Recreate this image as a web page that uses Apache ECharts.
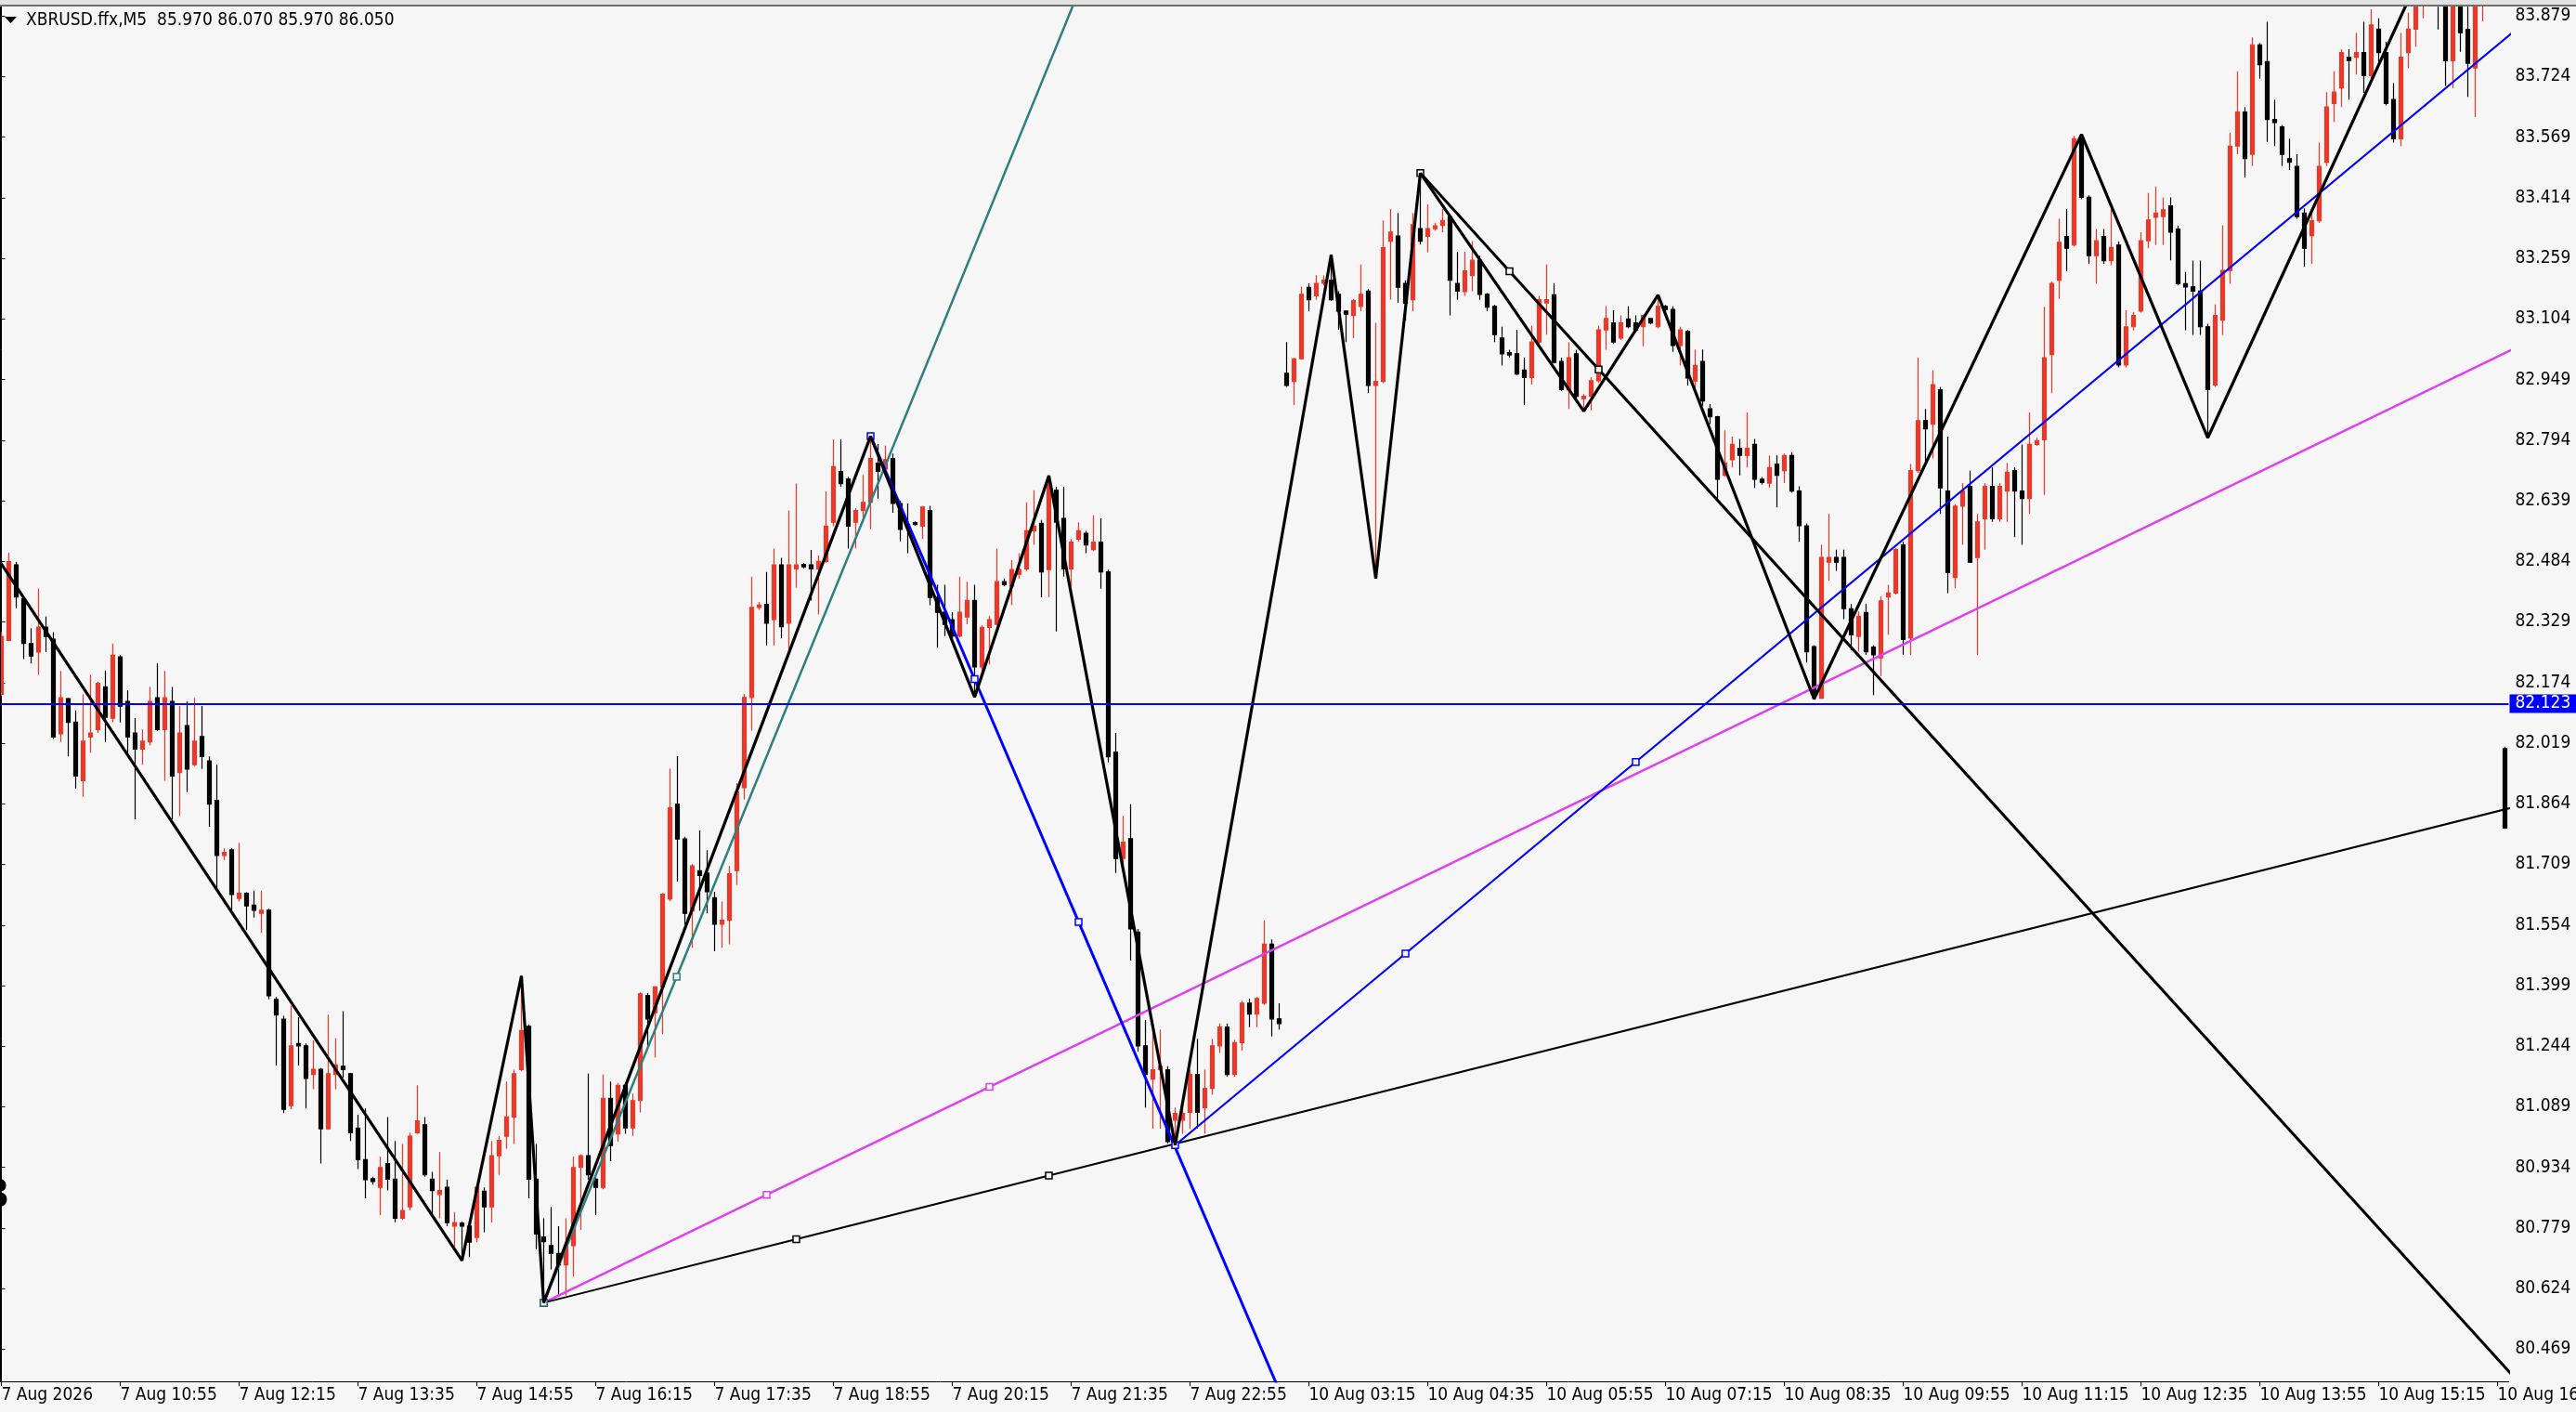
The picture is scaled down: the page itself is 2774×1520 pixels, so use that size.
<!DOCTYPE html>
<html><head><meta charset="utf-8">
<script src="https://cdn.jsdelivr.net/npm/echarts@6/dist/echarts.min.js"></script>
<style>html,body{margin:0;padding:0;background:#f6f6f6;}#c{width:2774px;height:1520px;}</style>
</head><body><div id="c"></div>
<script>
const opens = [82.144,82.282,82.475,82.388,82.274,82.252,82.316,82.285,82.043,82.133,
82.073,81.923,82.035,82.054,82.163,82.083,82.240,82.126,82.045,82.004,
82.022,82.135,82.054,82.126,81.944,82.064,81.964,82.036,81.974,81.873,
81.732,81.746,81.622,81.635,81.605,81.584,81.592,81.364,81.313,81.092,
81.251,81.245,81.172,81.185,81.033,81.172,81.193,81.174,81.035,80.954,
80.905,80.883,80.944,80.904,80.804,80.833,81.023,81.043,80.904,80.865,
80.883,80.784,80.792,80.784,80.755,80.873,80.833,80.964,81.014,81.063,
81.184,81.295,80.904,80.756,80.734,80.714,80.685,80.734,80.934,80.964,
80.904,80.883,81.111,81.020,81.144,81.035,81.105,81.374,81.330,81.396,
81.621,81.863,81.774,81.590,81.693,81.687,81.624,81.556,81.566,81.693,
81.905,82.136,82.366,82.374,82.335,82.475,82.326,82.465,82.476,82.475,
82.465,82.484,82.584,82.714,82.695,82.584,82.614,82.635,82.735,82.720,
82.747,82.632,82.578,82.583,82.574,82.614,82.392,82.354,82.335,82.293,
82.342,82.384,82.214,82.315,82.323,82.432,82.420,82.451,82.465,82.562,
82.581,82.463,82.666,82.594,82.465,82.541,82.556,82.514,82.533,82.457,
81.996,81.724,81.775,81.536,81.245,81.160,81.184,81.184,81.055,81.055,
81.075,81.172,81.087,81.136,81.245,81.293,81.172,81.253,81.354,81.326,
81.354,81.505,81.314,82.965,82.944,83.002,83.185,83.163,83.195,83.203,
83.167,83.124,83.113,83.136,83.175,82.934,82.944,83.303,83.316,83.195,
83.153,83.335,83.315,83.335,83.343,83.365,83.195,83.174,83.215,83.254,
83.167,83.136,83.055,83.018,83.015,82.973,82.954,83.045,83.145,83.166,
82.995,82.923,83.015,82.900,82.906,82.946,83.076,83.094,83.055,83.104,
83.094,83.084,83.105,83.084,83.136,83.128,83.036,83.072,82.945,82.995,
82.874,82.854,82.704,82.744,82.773,82.755,82.783,82.694,82.684,82.733,
82.716,82.755,82.664,82.575,82.266,82.134,82.482,82.494,82.494,82.363,
82.292,82.353,82.265,82.237,82.393,82.403,82.526,82.288,82.716,82.844,
82.835,82.923,82.664,82.443,82.625,82.676,82.494,82.593,82.676,82.593,
82.664,82.716,82.664,82.645,82.783,82.795,83.013,83.203,83.315,83.293,
83.565,83.415,83.266,83.315,83.253,83.293,82.986,83.084,83.124,83.304,
83.364,83.366,83.393,83.334,83.194,83.186,83.175,83.084,82.935,83.101,
83.228,83.546,83.633,83.525,83.805,83.762,83.614,83.595,83.514,83.494,
83.375,83.317,83.355,83.505,83.655,83.695,83.773,83.773,83.785,83.726,
83.845,83.785,83.665,83.565,83.785,83.845,83.940,83.960,83.990,83.950,
83.764,83.950,83.844,83.746,83.940,83.960,84.000,82.005];

const highs = [82.303,82.506,82.483,82.393,82.313,82.414,82.343,82.303,82.204,82.135,
82.103,82.144,82.194,82.176,82.204,82.274,82.244,82.154,82.083,82.054,
82.163,82.223,82.204,82.163,82.114,82.126,82.135,82.114,81.985,81.964,
81.750,81.751,81.764,81.638,81.642,81.642,81.596,81.370,81.322,81.348,
81.318,81.251,81.259,81.188,81.325,81.265,81.334,81.176,81.069,81.085,
80.910,80.962,81.063,81.002,80.994,81.023,81.144,81.063,80.923,80.974,
80.903,80.820,80.796,80.792,80.885,80.883,81.002,81.014,81.154,81.184,
81.425,81.300,80.994,80.804,80.833,80.784,80.804,80.962,80.967,81.174,
80.910,81.172,81.154,81.150,81.150,81.123,81.382,81.380,81.398,81.636,
81.954,81.986,81.780,81.710,81.796,81.745,81.639,81.614,81.705,81.917,
82.145,82.445,82.380,82.457,82.517,82.493,82.614,82.683,82.480,82.513,
82.499,82.663,82.796,82.796,82.700,82.620,82.705,82.804,82.784,82.780,
82.760,82.640,82.632,82.586,82.626,82.626,82.424,82.424,82.354,82.445,
82.432,82.424,82.320,82.344,82.517,82.440,82.487,82.505,82.635,82.666,
82.590,82.703,82.675,82.675,82.541,82.584,82.562,82.602,82.594,82.463,
82.045,81.833,81.863,81.544,81.311,81.281,81.287,81.193,81.087,81.087,
81.184,81.263,81.184,81.263,81.302,81.302,81.260,81.360,81.366,81.370,
81.566,81.517,81.354,83.045,83.005,83.187,83.195,83.216,83.215,83.268,
83.175,83.126,83.155,83.244,83.180,83.094,83.356,83.385,83.375,83.203,
83.375,83.477,83.397,83.350,83.385,83.367,83.276,83.276,83.303,83.266,
83.170,83.140,83.084,83.025,83.076,83.005,83.087,83.163,83.244,83.195,
83.005,83.045,83.025,82.912,82.955,83.087,83.136,83.126,83.113,83.136,
83.113,83.115,83.106,83.165,83.140,83.136,83.084,83.076,83.026,83.026,
82.886,82.856,82.819,82.803,82.797,82.865,82.797,82.700,82.755,82.755,
82.760,82.763,82.676,82.581,82.270,82.526,82.605,82.514,82.514,82.375,
82.356,82.375,82.270,82.395,82.424,82.518,82.534,82.733,83.005,82.874,
82.973,82.930,82.803,82.630,82.684,82.716,82.605,82.684,82.724,82.684,
82.736,82.724,82.783,82.865,82.800,83.135,83.200,83.360,83.385,83.572,
83.576,83.420,83.334,83.334,83.385,83.302,83.126,83.122,83.326,83.426,
83.443,83.415,83.415,83.343,83.224,83.253,83.253,83.092,83.141,83.343,
83.580,83.737,83.646,83.824,83.810,83.864,83.665,83.600,83.565,83.525,
83.387,83.377,83.555,83.684,83.737,83.794,83.794,83.835,83.864,83.896,
83.873,83.813,83.707,83.835,83.887,83.960,83.990,84.020,84.010,83.980,
83.990,83.970,83.920,83.970,84.000,84.030,84.040,82.010];

const lows = [82.140,82.280,82.364,82.234,82.223,82.194,82.252,82.030,82.022,81.985,
81.903,81.882,81.995,82.045,82.022,82.073,82.072,81.995,81.824,81.964,
82.013,82.050,81.923,81.824,81.833,81.894,81.960,81.953,81.805,81.645,
81.720,81.592,81.614,81.541,81.573,81.534,81.364,81.195,81.073,81.083,
81.195,81.085,81.134,80.944,81.030,81.134,81.164,81.002,80.930,80.855,
80.890,80.812,80.875,80.794,80.800,80.824,81.020,80.910,80.812,80.804,
80.784,80.729,80.695,80.705,80.743,80.768,80.793,80.915,80.982,80.994,
81.180,80.855,80.725,80.588,80.673,80.606,80.606,80.655,80.774,80.903,
80.812,80.878,80.950,81.000,81.020,81.015,81.075,81.245,81.215,81.275,
81.615,81.665,81.556,81.496,81.590,81.584,81.487,81.496,81.505,81.657,
81.875,82.051,82.360,82.269,82.269,82.287,82.245,82.417,82.465,82.384,
82.348,82.480,82.574,82.675,82.517,82.517,82.584,82.566,82.644,82.700,
82.608,82.535,82.505,82.575,82.541,82.372,82.263,82.293,82.280,82.290,
82.323,82.137,82.190,82.220,82.320,82.420,82.372,82.440,82.460,82.526,
82.392,82.392,82.305,82.445,82.420,82.535,82.505,82.510,82.414,81.970,
81.687,81.700,81.463,81.230,81.087,81.033,81.033,80.995,80.991,81.020,
81.033,81.033,81.020,81.120,81.227,81.166,81.166,81.233,81.293,81.293,
81.350,81.269,81.287,82.930,82.884,83.000,83.124,83.153,83.190,83.150,
83.076,83.045,83.055,83.124,82.914,82.440,82.940,83.153,83.145,83.100,
83.124,83.294,83.274,83.330,83.326,83.113,83.153,83.163,83.175,83.153,
83.124,83.045,82.985,83.005,82.960,82.884,82.936,83.040,83.064,82.990,
82.920,82.874,82.900,82.868,82.870,82.940,83.025,83.040,83.050,83.080,
83.070,83.034,83.090,83.080,83.120,83.020,82.985,82.934,82.926,82.882,
82.835,82.645,82.700,82.724,82.704,82.724,82.672,82.680,82.672,82.622,
82.684,82.660,82.534,82.225,82.132,82.132,82.435,82.460,82.336,82.257,
82.253,82.245,82.142,82.190,82.296,82.400,82.245,82.245,82.710,82.740,
82.747,82.605,82.403,82.415,82.526,82.480,82.245,82.514,82.585,82.585,
82.585,82.546,82.526,82.605,82.780,82.654,82.914,83.155,83.226,83.290,
83.410,83.245,83.194,83.245,83.241,82.980,82.980,83.075,83.120,83.285,
83.293,83.293,83.254,83.190,83.075,83.063,83.063,82.800,82.930,83.063,
83.194,83.525,83.466,83.495,83.718,83.556,83.546,83.495,83.485,83.360,
83.237,83.245,83.350,83.495,83.607,83.646,83.665,83.729,83.682,83.720,
83.762,83.650,83.555,83.546,83.745,83.800,83.873,83.915,83.844,83.700,
83.694,83.787,83.672,83.620,83.865,83.930,83.940,81.800];

const closes = [82.292,82.483,82.393,82.274,82.242,82.316,82.292,82.035,82.135,82.072,
81.935,82.024,82.045,82.172,82.085,82.244,82.114,82.035,82.004,82.024,
82.126,82.054,82.135,81.935,82.045,81.953,82.024,81.985,81.863,81.732,
81.740,81.632,81.635,81.603,81.592,81.592,81.373,81.324,81.083,81.245,
81.245,81.162,81.185,81.033,81.174,81.196,81.184,81.023,80.954,80.903,
80.898,80.934,80.904,80.804,80.824,81.014,81.053,80.915,80.875,80.875,
80.793,80.793,80.784,80.743,80.883,80.833,80.964,81.003,81.063,81.174,
81.284,80.904,80.764,80.744,80.714,80.685,80.734,80.934,80.964,80.915,
80.883,81.111,80.990,81.144,81.035,81.105,81.378,81.314,81.396,81.633,
81.854,81.774,81.584,81.705,81.681,81.639,81.556,81.566,81.685,81.895,
82.136,82.366,82.372,82.326,82.475,82.317,82.475,82.475,82.470,82.465,
82.484,82.574,82.726,82.683,82.574,82.614,82.635,82.747,82.714,82.744,
82.632,82.566,82.572,82.578,82.623,82.392,82.354,82.323,82.293,82.354,
82.384,82.214,82.315,82.335,82.432,82.425,82.463,82.463,82.562,82.574,
82.457,82.687,82.584,82.465,82.533,82.562,82.526,82.533,82.457,81.984,
81.724,81.766,81.544,81.245,81.172,81.184,81.193,81.000,81.072,81.072,
81.172,81.075,81.136,81.245,81.293,81.172,81.253,81.354,81.326,81.366,
81.505,81.314,81.302,82.934,83.002,83.167,83.153,83.195,83.203,83.153,
83.124,83.116,83.151,83.167,82.934,82.944,83.286,83.326,83.185,83.144,
83.345,83.303,83.335,83.342,83.356,83.203,83.175,83.227,83.254,83.167,
83.134,83.064,83.015,83.012,82.963,82.954,83.045,83.153,83.153,82.993,
82.923,83.005,82.906,82.906,82.946,83.076,83.105,83.045,83.094,83.084,
83.076,83.113,83.094,83.136,83.128,83.036,83.076,82.953,82.985,82.894,
82.854,82.694,82.736,82.783,82.755,82.773,82.694,82.686,82.724,82.704,
82.755,82.664,82.575,82.253,82.146,82.494,82.494,82.482,82.363,82.296,
82.344,82.253,82.245,82.383,82.403,82.514,82.284,82.716,82.844,82.823,
82.936,82.672,82.455,82.625,82.664,82.482,82.585,82.676,82.593,82.676,
82.712,82.664,82.645,82.783,82.793,83.005,83.195,83.300,83.285,83.565,
83.415,83.266,83.304,83.253,83.287,82.986,83.084,83.113,83.304,83.357,
83.375,83.383,83.326,83.194,83.186,83.175,83.084,82.923,83.113,83.228,
83.546,83.633,83.514,83.805,83.754,83.614,83.606,83.525,83.505,83.366,
83.285,83.355,83.494,83.646,83.684,83.785,83.765,83.785,83.726,83.856,
83.785,83.655,83.565,83.773,83.845,83.930,83.960,83.990,83.950,83.764,
83.950,83.836,83.758,83.940,83.960,84.000,83.970,81.802];

const timeLabels = ['7 Aug 2026','7 Aug 10:55','7 Aug 12:15','7 Aug 13:35','7 Aug 14:55','7 Aug 16:15',
'7 Aug 17:35','7 Aug 18:55','7 Aug 20:15','7 Aug 21:35','7 Aug 22:55','10 Aug 03:15','10 Aug 04:35',
'10 Aug 05:55','10 Aug 07:15','10 Aug 08:35','10 Aug 09:55','10 Aug 11:15','10 Aug 12:35','10 Aug 13:55',
'10 Aug 15:15','10 Aug 16:35'];
const labelEvery = 16;

const priceTicks = [80.469,80.624,80.779,80.934,81.089,81.244,81.399,81.554,81.709,81.864,82.019,
82.174,82.329,82.484,82.639,82.794,82.949,83.104,83.259,83.414,83.569,83.724,83.879];
const priceMin = 80.387, priceMax = 83.903;

// ZigZag vertices: [bar index, price]
const zigzag = [[-4,82.592],[62,80.696],[70,81.424],[73,80.588],[117,82.804],[131,82.137],[141,82.703],
[158,80.991],[179,83.268],[185,82.440],[191,83.477],[213,82.868],[223,83.165],[244,82.132],[280,83.576],
[297,82.800],[327,84.044]];

// Trend line anchors (ray to the right): [bar, price]
const tealLine = [[73,80.588],[108.8,82.255]];
const blueDownLine = [[117,82.804],[145,81.562]];
const blueUpLine = [[158,80.991],[220,81.971]];
const magentaLine = [[73,80.588],[133,81.140]];
const blackBaseLine = [[73,80.588],[141,80.913]];
const blackRayLine = [[191,83.477],[215,82.975]];
const hLevel = 82.123;

const FONT = "'DejaVu Sans Condensed','Liberation Sans',sans-serif";
const BG = '#f6f6f6';
const UP = '#e8392c';

const nBars = opens.length;
const categories = opens.map((_, i) => String(i));
const candleData = opens.map((o, i) => [o, closes[i], lows[i], highs[i]]);

function raySeries(anchors, color, width, markerCount) {
  const a = anchors[0], b = anchors[1];
  const slope = (b[1] - a[1]) / (b[0] - a[0]);
  const mid = [(a[0] + b[0]) / 2, (a[1] + b[1]) / 2];
  const endX = nBars + 8;
  const end = [endX, a[1] + slope * (endX - a[0])];
  const pts = [a, mid, b, end];
  return {
    type: 'line', xAxisIndex: 1, yAxisIndex: 0, clip: true, silent: true, animation: false,
    showSymbol: true, showAllSymbol: true,
    data: pts.map((p, i) => ({
      value: p,
      symbol: i < markerCount ? 'rect' : 'none',
      symbolSize: 7
    })),
    lineStyle: { color: color, width: width },
    itemStyle: { color: BG, borderColor: color, borderWidth: 1.5 },
    z: 3
  };
}

const chart = echarts.init(document.getElementById('c'), null, { renderer: 'canvas' });
chart.setOption({
  backgroundColor: BG,
  animation: false,
  grid: { left: -2.5, right: 72.5, top: 7, bottom: 33, containLabel: false, outerBoundsMode: 'none' },
  xAxis: [{
    type: 'category', data: categories, boundaryGap: true,
    axisLine: { show: true, lineStyle: { color: '#000', width: 1 } },
    axisTick: { show: true, alignWithLabel: true, interval: labelEvery - 1, length: 5, lineStyle: { color: '#000' } },
    axisLabel: {
      show: true, interval: labelEvery - 1, align: 'left', margin: 6, hideOverlap: false,
      fontSize: 19, fontFamily: FONT, color: '#000',
      formatter: (v, idx) => (idx % labelEvery === 0 ? (timeLabels[idx / labelEvery] || '') : '')
    },
    splitLine: { show: false }
  }, {
    type: 'value', min: -0.5, max: nBars - 0.5, show: false
  }],
  yAxis: [{
    type: 'value', position: 'right', min: priceMin, max: priceMax, scale: true,
    axisLine: { show: true, lineStyle: { color: '#000', width: 1 } },
    axisTick: { show: true, customValues: priceTicks, length: 4, lineStyle: { color: '#000' } },
    axisLabel: {
      show: true, customValues: priceTicks, margin: 7, fontSize: 19, fontFamily: FONT, color: '#000',
      formatter: v => Number(v).toFixed(3)
    },
    splitLine: { show: false }
  }],
  series: [
    {
      type: 'candlestick', xAxisIndex: 0, yAxisIndex: 0, data: candleData, barWidth: 4, clip: true,
      silent: true,
      itemStyle: { color: UP, color0: '#000', borderColor: UP, borderColor0: '#000', borderWidth: 1.2 },
      markLine: {
        silent: true, symbol: ['none', 'none'], animation: false,
        lineStyle: { color: '#0000ff', width: 2, type: 'solid' },
        label: {
          show: true, position: 'end', distance: 1, formatter: () => hLevel.toFixed(3),
          color: '#fff', backgroundColor: '#0000ff', padding: [1, 6, 0, 6],
          fontSize: 19, fontFamily: FONT
        },
        data: [{ yAxis: hLevel }]
      },
      z: 2
    },
    raySeries(magentaLine, '#e040f0', 2.5, 3),
    raySeries(blackBaseLine, '#000000', 2, 3),
    raySeries(tealLine, '#2f7f7f', 2.5, 2),
    raySeries(blueUpLine, '#0000ff', 2.2, 3),
    raySeries(blueDownLine, '#0000ff', 3, 3),
    raySeries(blackRayLine, '#000000', 3, 3),
    {
      type: 'line', xAxisIndex: 1, yAxisIndex: 0, data: zigzag, clip: true, silent: true,
      showSymbol: false, lineStyle: { color: '#000', width: 3.2 }, z: 4
    }
  ],
  graphic: [
    { type: 'rect', shape: { x: 0, y: 0, width: 2774, height: 5 }, style: { fill: '#e2e2e2' }, z: 10 },
    { type: 'line', shape: { x1: 0, y1: 6, x2: 2774, y2: 6 }, style: { stroke: '#707070', lineWidth: 2 }, z: 10 },
    { type: 'line', shape: { x1: 0.5, y1: 7, x2: 0.5, y2: 1487 }, style: { stroke: '#000', lineWidth: 1 }, z: 10 },
    { type: 'polygon', shape: { points: [[5, 18], [18, 18], [11.5, 25]] }, style: { fill: '#000' }, z: 10 },
    { type: 'text', x: 28, y: 22, style: { text: 'XBRUSD.ffx,M5  85.970 86.070 85.970 86.050', fontSize: 19, fontFamily: FONT, fill: '#000', verticalAlign: 'middle' }, z: 10 },
    { type: 'text', x: -17, y: 1264, style: { text: '3', fontSize: 47, fontWeight: 'bold', fontFamily: 'Liberation Sans', fill: '#000', verticalAlign: 'top' }, z: 10 }
  ]
});
</script>
</body></html>
